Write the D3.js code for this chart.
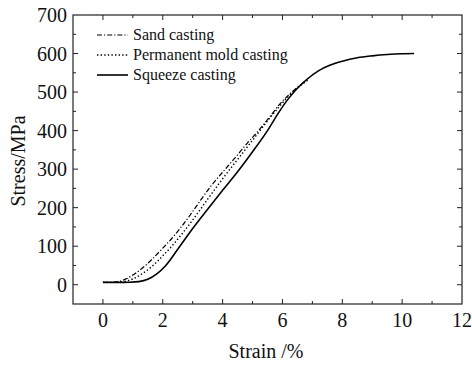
<!DOCTYPE html>
<html>
<head>
<meta charset="utf-8">
<script src="https://cdn.jsdelivr.net/npm/d3@7"></script>
<style>
	body { margin: 0; background: #fff; }
</style>
</head>
<body>
<svg width="472" height="365"></svg>
<script>
'use strict'

// Series: [strain %, stress MPa]
const sandCasting = [
	[0, 6], [0.3, 6], [0.5, 8], [0.8, 16], [1.0, 25], [1.3, 42], [1.6, 63], [2.0, 95],
	[2.3, 120], [2.6, 148], [3.0, 190], [3.27, 220], [3.6, 255], [4.0, 292], [4.4, 328],
	[4.8, 365], [5.2, 400], [5.6, 438], [5.9, 468], [6.2, 492], [6.5, 512], [6.8, 530],
]
const permanentMold = [
	[0, 6], [0.5, 6], [0.8, 10], [1.0, 15], [1.3, 28], [1.6, 45], [2.0, 75], [2.3, 100],
	[2.6, 128], [3.0, 168], [3.5, 222], [4.0, 275], [4.5, 325], [5.0, 375], [5.5, 425],
	[5.9, 463], [6.2, 489], [6.5, 511], [6.85, 531],
]
const squeezeCasting = [
	[0, 6], [0.5, 6], [0.9, 6.5], [1.2, 8], [1.5, 14], [1.8, 28], [2.1, 50], [2.5, 92],
	[3.0, 146], [3.5, 196], [4.0, 245], [4.5, 293], [5.0, 345], [5.5, 400], [5.9, 450],
	[6.2, 483], [6.5, 510], [6.8, 532], [7.2, 555], [7.6, 570], [8.0, 580],
	[8.5, 589], [9.0, 594], [9.5, 597.5], [10.0, 599.5], [10.4, 600],
]
const seriesNames = ['Sand casting', 'Permanent mold casting', 'Squeeze casting']
const xTicks = [0, 2, 4, 6, 8, 10, 12]
const yTicks = [0, 100, 200, 300, 400, 500, 600, 700]

const FONT = "'Liberation Serif', 'Times New Roman', Times, 'DejaVu Serif', serif"
const M = { left: 73, right: 462, top: 15, bottom: 304 }
const svg = d3.select('svg').style('font-family', FONT)

const x = d3.scaleLinear().domain([-1, 12]).range([M.left, M.right])
const y = d3.scaleLinear().domain([-50, 700]).range([M.bottom, M.top])

// Minor ticks sit halfway between the majors
const xMinor = d3.range(-1, 12, 2)
const yMinor = d3.range(50, 700, 100)

const styles = [
	{ dash: '5,2,1.2,2', width: 1.2 },
	{ dash: '1.4,2.2', width: 1.4 },
	{ dash: null, width: 1.6 },
]

// Frame
svg.append('rect')
	.attr('x', M.left).attr('y', M.top)
	.attr('width', M.right - M.left).attr('height', M.bottom - M.top)
	.attr('fill', 'none').attr('stroke', '#222').attr('stroke-width', 1.2)

// Ticks on all four sides, pointing in
const tickG = svg.append('g').attr('stroke', '#222').attr('stroke-width', 1)
const drawX = (vals, len) => {
	vals.forEach((v) => {
		tickG.append('line').attr('x1', x(v)).attr('x2', x(v)).attr('y1', M.bottom).attr('y2', M.bottom - len)
		tickG.append('line').attr('x1', x(v)).attr('x2', x(v)).attr('y1', M.top).attr('y2', M.top + len)
	})
}
const drawY = (vals, len) => {
	vals.forEach((v) => {
		tickG.append('line').attr('y1', y(v)).attr('y2', y(v)).attr('x1', M.left).attr('x2', M.left + len)
		tickG.append('line').attr('y1', y(v)).attr('y2', y(v)).attr('x1', M.right).attr('x2', M.right - len)
	})
}
drawX(xTicks.filter((v) => v < 12), 5)
drawX(xMinor.filter((v) => v > -1), 3)
drawY(yTicks.filter((v) => v < 700), 5)
drawY(yMinor, 3)

// Tick labels
svg.append('g').selectAll('text').data(xTicks).enter().append('text')
	.attr('x', (d) => x(d)).attr('y', 327)
	.attr('text-anchor', 'middle').attr('font-size', 20).attr('fill', '#111')
	.text((d) => d)
svg.append('g').selectAll('text').data(yTicks).enter().append('text')
	.attr('x', 67).attr('y', (d) => y(d)).attr('dy', '0.35em')
	.attr('text-anchor', 'end').attr('font-size', 20).attr('fill', '#111')
	.text((d) => d)

// Axis titles
svg.append('text').attr('x', 266).attr('y', 358).attr('fill', '#111')
	.attr('text-anchor', 'middle').attr('font-size', 20).text('Strain /%')
svg.append('text').attr('transform', 'translate(25,161) rotate(-90)').attr('fill', '#111')
	.attr('text-anchor', 'middle').attr('font-size', 20).text('Stress/MPa')

// Curves
const line = d3.line().x((d) => x(d[0])).y((d) => y(d[1])).curve(d3.curveMonotoneX)
;[sandCasting, permanentMold, squeezeCasting].forEach((data, i) => {
	svg.append('path').datum(data)
		.attr('d', line)
		.attr('fill', 'none').attr('stroke', '#000')
		.attr('stroke-width', styles[i].width)
		.attr('stroke-dasharray', styles[i].dash)
})

// Legend
const legend = svg.append('g')
seriesNames.forEach((name, i) => {
	const ly = 35 + i * 20
	legend.append('line')
		.attr('x1', 97).attr('x2', 128).attr('y1', ly).attr('y2', ly)
		.attr('stroke', '#000').attr('stroke-width', styles[i].width)
		.attr('stroke-dasharray', styles[i].dash)
	legend.append('text').attr('x', 133).attr('y', ly).attr('dy', '0.33em')
		.attr('font-size', 16).attr('fill', '#111').text(name)
})
</script>
</body>
</html>
